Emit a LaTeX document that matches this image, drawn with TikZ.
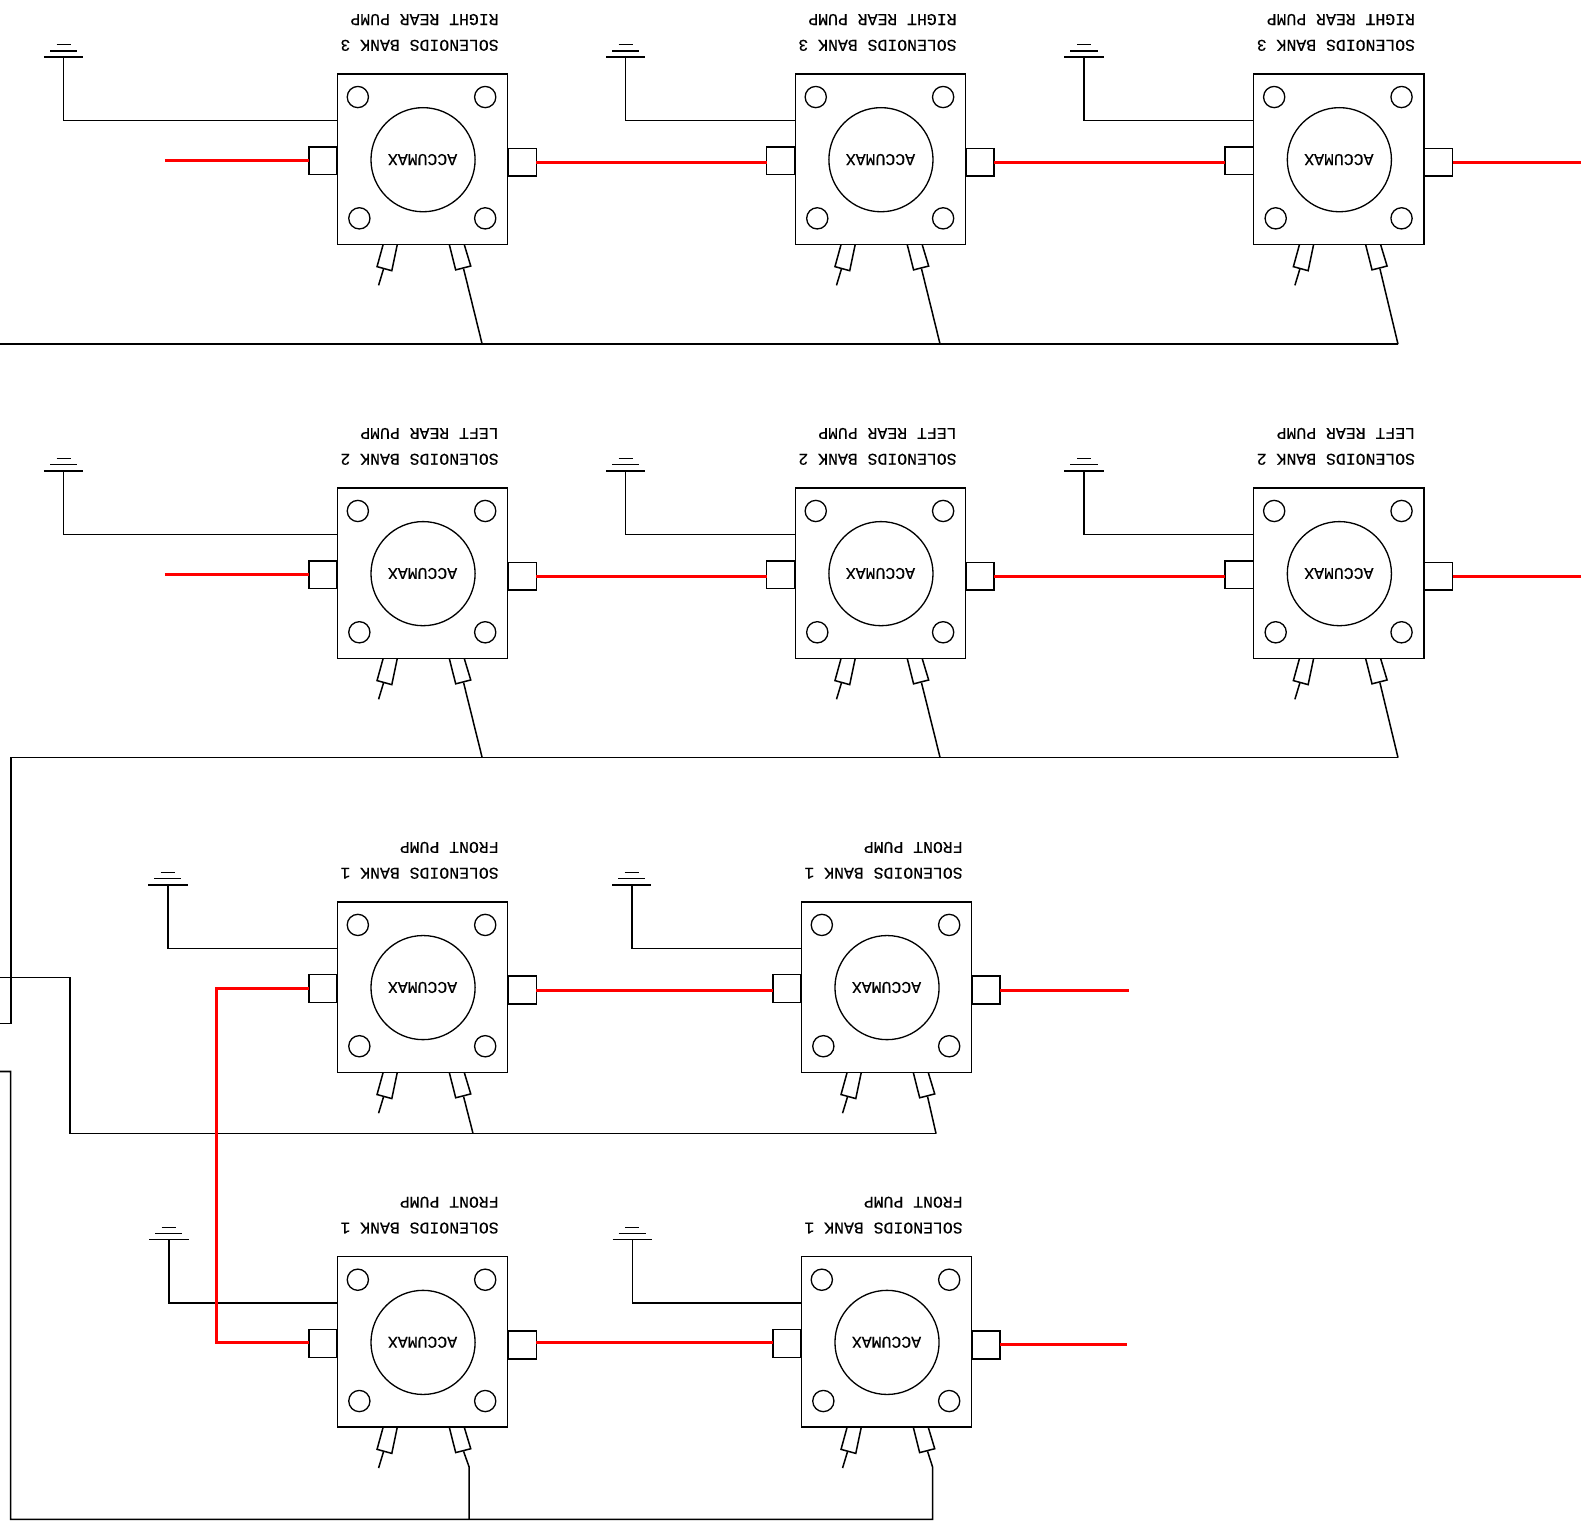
\documentclass[tikz,border=0pt]{standalone}
\usepackage{fontspec}
\setmainfont[FakeBold=0.25]{Liberation Mono}
\usetikzlibrary{calc}
\tikzset{
  wire/.style={draw=black,line width=1.5pt,line join=miter},
  redwire/.style={draw=red,line width=2.9pt,line join=miter},
  boxshape/.style={draw=black,line width=1.5pt,minimum size=168.5pt,inner sep=0pt,outer sep=0pt,rectangle},
  portshape/.style={draw=black,line width=1.5pt,minimum width=28pt,minimum height=27.5pt,inner sep=0pt,outer sep=0pt,rectangle},
  holeshape/.style={draw=black,line width=1.3pt,circle,minimum size=21pt,inner sep=0pt,outer sep=0pt},
  bigshape/.style={draw=black,line width=1.3pt,circle,minimum size=103pt,inner sep=0pt,outer sep=0pt},
  flip/.style={rotate=180,inner sep=0pt,font=\fontsize{16.3pt}{18pt}\selectfont},
}
% name, cx, cy, line nearest box, line farthest from box
\newcommand{\accumod}[5]{%
  \node[boxshape] (#1) at (#2,#3) {};
  \node[bigshape] (#1c) at (#2+0.5,#3+0.5) {};
  \node[flip,anchor=base] (#1t) at (#2,#3-5) {ACCUMAX};
  \node[holeshape] (#1h1) at (#2-64,#3-61.5) {};
  \node[holeshape] (#1h2) at (#2+62,#3-61.5) {};
  \node[holeshape] (#1h3) at (#2-62.5,#3+58.5) {};
  \node[holeshape] (#1h4) at (#2+62,#3+58.5) {};
  \node[portshape] (#1L) at (#2-98.5,#3+1.5) {};
  \node[portshape] (#1R) at (#2+98.5,#3+3) {};
  \node[flip,anchor=base west] (#1a) at (#2+75.5,#3-118) {#4};
  \node[flip,anchor=base west] (#1b) at (#2+75.5,#3-143.5) {#5};
  \draw[wire] (#2-39,#3+84.5) -- (#2-45,#3+106.3) -- (#2-30.4,#3+110.3) -- (#2-25,#3+84.5);
  \draw[wire] (#2+26.5,#3+84.5) -- (#2+32.8,#3+109.5) -- (#2+47.7,#3+105.7) -- (#2+41.3,#3+84.5);
  \coordinate (#1ts) at (#2-38.5,#3+108.3);
  \coordinate (#1te) at (#2-43.5,#3+124.8);
  \draw[wire] (#1ts) -- (#1te);
  \coordinate (#1tail) at (#2+40.6,#3+108.3);
}
% ground: name, stem x, box name
\newcommand{\gnd}[3]{%
  \path (#3.north west) ++(0,-17) coordinate (#1ref);
  \coordinate (#1x) at (#2,0);
  \coordinate (#1s) at (#1x |- #1ref);
  \path (#3.north west) ++(0,46) coordinate (#1j);
  \draw[wire] (#1s) |- (#1j);
  \draw[wire] ($(#1s)+(-19.5,0)$) -- ($(#1s)+(19.5,0)$);
  \draw[wire] ($(#1s)+(-13.5,-6)$) -- ($(#1s)+(13.5,-6)$);
  \draw[wire] ($(#1s)+(-7,-12)$) -- ($(#1s)+(7,-12)$);
}
\begin{document}
\begin{tikzpicture}[x=1pt,y=-1pt]
\path[use as bounding box] (0,0) rectangle (1568,1511);
\accumod{a1}{418}{157.5}{SOLENOIDS  BANK 3}{RIGHT REAR PUMP}
\accumod{a2}{871}{157.5}{SOLENOIDS  BANK 3}{RIGHT REAR PUMP}
\accumod{a3}{1324.5}{157.5}{SOLENOIDS  BANK 3}{RIGHT REAR PUMP}
\accumod{b1}{418}{567}{SOLENOIDS  BANK 2}{LEFT REAR PUMP}
\accumod{b2}{871}{567}{SOLENOIDS  BANK 2}{LEFT REAR PUMP}
\accumod{b3}{1324.5}{567}{SOLENOIDS  BANK 2}{LEFT REAR PUMP}
\accumod{c1}{418}{976.5}{SOLENOIDS  BANK 1}{FRONT PUMP}
\accumod{c2}{877}{976.5}{SOLENOIDS  BANK 1}{FRONT PUMP}
\accumod{d1}{418}{1327.5}{SOLENOIDS  BANK 1}{FRONT PUMP}
\accumod{d2}{877}{1327.5}{SOLENOIDS  BANK 1}{FRONT PUMP}
% grounds
\gnd{ga1}{63}{a1}
\gnd{ga2}{619}{a2}
\gnd{ga3}{1072.5}{a3}
\gnd{gb1}{63}{b1}
\gnd{gb2}{619}{b2}
\gnd{gb3}{1072.5}{b3}
\gnd{gc1}{166}{c1}
\gnd{gc2}{625}{c2}
\gnd{gd1}{167}{d1}
\gnd{gd2}{625.5}{d2}
% black buses
\coordinate (busA0) at (0,340.5);
\coordinate (busA1) at (477,340.5);
\coordinate (busA2) at (930,340.5);
\coordinate (busA3) at (1383,340.5);
\draw[wire] (busA0) -- (busA3);
\draw[wire] (a1tail) -- (busA1);
\draw[wire] (a2tail) -- (busA2);
\draw[wire] (a3tail) -- (busA3);
\coordinate (busB0) at (0,1012.5);
\coordinate (busB1) at (477,749.5);
\coordinate (busB2) at (930,749.5);
\coordinate (busB3) at (1383,749.5);
\draw[wire] (busB0) -- (11,1012.5) -- (11,749.5) -- (busB3);
\draw[wire] (b1tail) -- (busB1);
\draw[wire] (b2tail) -- (busB2);
\draw[wire] (b3tail) -- (busB3);
\coordinate (busC0) at (0,967);
\coordinate (busC1) at (468,1121.5);
\coordinate (busC2) at (926,1121.5);
\draw[wire] (busC0) -- (69,967) -- (69,1121.5) -- (busC2);
\draw[wire] (c1tail) -- (busC1);
\draw[wire] (c2tail) -- (busC2);
\coordinate (busD0) at (0,1060);
\coordinate (busD1) at (464,1451);
\coordinate (busD2) at (922.5,1451);
\draw[wire] (busD0) -- (10.5,1060) -- (10.5,1503) -- (922.5,1503) -- (busD2) -- (d2tail);
\draw[wire] (464,1503) -- (busD1) -- (d1tail);
% red wires
\coordinate (ra) at (163,159);
\coordinate (rb) at (163,568);
\coordinate (ea) at (1564,160.5);
\coordinate (eb) at (1564,570);
\coordinate (ec) at (1116.5,980);
\coordinate (ed) at (1114.5,1330);
\draw[redwire] (ra) -- (a1L.west |- ra);
\draw[redwire] (a1R.east) -- (a2L.west |- a1R.east);
\draw[redwire] (a2R.east) -- (a3L.west |- a2R.east);
\draw[redwire] (a3R.east) -- (ea |- a3R.east);
\draw[redwire] (rb) -- (b1L.west |- rb);
\draw[redwire] (b1R.east) -- (b2L.west |- b1R.east);
\draw[redwire] (b2R.east) -- (b3L.west |- b2R.east);
\draw[redwire] (b3R.east) -- (eb |- b3R.east);
\draw[redwire] (c1L.west) -- (214,978) -- (214,1328) -- (d1L.west |- 0,1328);
\draw[redwire] (c1R.east) -- (c2L.west |- c1R.east);
\draw[redwire] (c2R.east) -- (ec |- c2R.east);
\draw[redwire] (d1R.east |- 0,1328.5) -- (d2L.west |- 0,1328.5);
\draw[redwire] (d2R.east) -- (ed |- d2R.east);
\end{tikzpicture}
\end{document}
